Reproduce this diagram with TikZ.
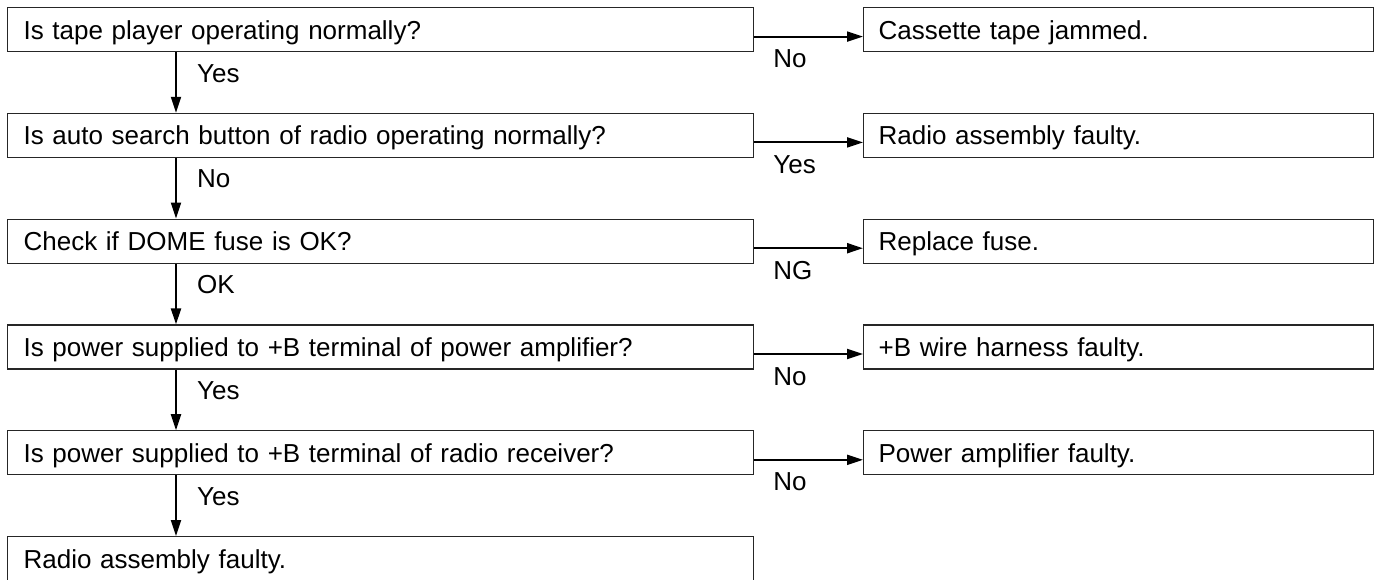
\documentclass[tikz,border=0pt]{standalone}
\usepackage{fontspec}
\setmainfont{Liberation Sans}
\usetikzlibrary{arrows.meta}
\begin{document}
\begin{tikzpicture}[x=1pt,y=-1pt,
  qbox/.style={draw=black!85, line width=1.2pt, rectangle, anchor=north west,
    text width=714pt, inner xsep=16pt, inner ysep=0pt, minimum height=44pt,
    align=left, font=\fontsize{26}{30}\selectfont, text height=24pt, text depth=5.1pt},
  rbox/.style={qbox, text width=480pt, inner xsep=15pt},
  lab/.style={anchor=west, inner sep=0pt, font=\fontsize{26}{30}\selectfont,
    text height=24pt, text depth=5.1pt},
  arr/.style={line width=2pt, -{Triangle[length=16pt,width=10pt]}}]
\useasboundingbox (0,0) rectangle (1380,579);
\fill[white] (0,0) rectangle (1380,579);

\node[qbox] (q1) at (7,7) {Is tape player operating normally?};
\node[qbox] (q2) at (7,112.8) {Is auto search button of radio operating normally?};
\node[qbox] (q3) at (7,218.6) {Check if DOME fuse is OK?};
\node[qbox] (q4) at (7,324.4) {Is power supplied to +B terminal of power amplifier?};
\node[qbox] (q5) at (7,430.2) {Is power supplied to +B terminal of radio receiver?};
\node[qbox] (q6) at (7,536) {Radio assembly faulty.};

\node[rbox] (r1) at (863,7) {Cassette tape jammed.};
\node[rbox] (r2) at (863,112.8) {Radio assembly faulty.};
\node[rbox] (r3) at (863,218.6) {Replace fuse.};
\node[rbox] (r4) at (863,324.4) {+B wire harness faulty.};
\node[rbox] (r5) at (863,430.2) {Power amplifier faulty.};

% vertical arrows
\foreach \a/\b/\t in {q1/q2/Yes, q2/q3/No, q3/q4/OK, q4/q5/Yes, q5/q6/Yes}{
  \draw[arr] ([xshift=169pt]\a.south west) -- ([xshift=169pt]\b.north west);
  \node[lab] (v\a) at ([xshift=190pt,yshift=-20.5pt]\a.south west) {\t};
}
% horizontal arrows
\foreach \a/\b/\t in {q1/r1/No, q2/r2/Yes, q3/r3/NG, q4/r4/No, q5/r5/No}{
  \draw[arr] ([yshift=-7pt]\a.east) -- ([yshift=-7pt]\b.west);
  \node[lab] (h\a) at ([xshift=19pt,yshift=-6pt]\a.south east) {\t};
}
\end{tikzpicture}
\end{document}
